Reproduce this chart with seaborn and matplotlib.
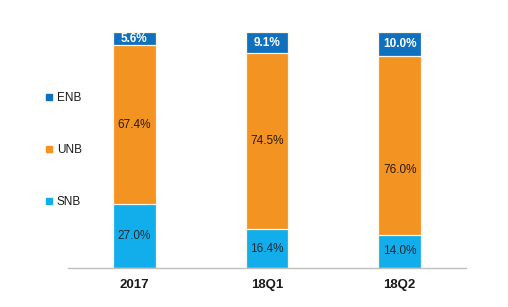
import matplotlib
matplotlib.use("Agg")
import matplotlib.pyplot as plt
import seaborn as sns
import pandas as pd
import numpy as np
from matplotlib.lines import Line2D

categories = ["2017", "18Q1", "18Q2"]
snb = [27.0, 16.4, 14.0]
unb = [67.4, 74.5, 76.0]
enb = [5.6, 9.1, 10.0]
series_names = ["ENB", "UNB", "SNB"]
colors = {"ENB": "#0F70BE", "UNB": "#F39322", "SNB": "#12AEEB"}

sns.set_theme(style="white")
plt.rcParams["font.family"] = ["Liberation Sans", "DejaVu Sans"]

df = pd.DataFrame({"cat": categories, "SNB": snb, "UNB": unb, "ENB": enb})
df["top_snb"] = df["SNB"]
df["top_unb"] = df["SNB"] + df["UNB"]
df["top_enb"] = df["SNB"] + df["UNB"] + df["ENB"]

fig = plt.figure(figsize=(5.08, 3.07), dpi=100)
ax = fig.add_axes([68 / 508, 39 / 307, (466 - 68) / 508, (268 - 32) / 307])

for col, name in [("top_enb", "ENB"), ("top_unb", "UNB"), ("top_snb", "SNB")]:
    sns.barplot(data=df, x="cat", y=col, color=colors[name], width=0.32,
                edgecolor="#FBF6EA", linewidth=0.9, saturation=1, ax=ax, zorder=2)

ax.set_ylim(0, 100)
ax.set_xlim(-0.5, 2.5)
ax.set_xlabel("")
ax.set_ylabel("")
ax.set_yticks([])
for s in ["top", "right", "left"]:
    ax.spines[s].set_visible(False)
ax.spines["bottom"].set_color("#BFBFBF")
ax.spines["bottom"].set_linewidth(1.0)
ax.tick_params(axis="x", length=0, pad=8)
for t in ax.get_xticklabels():
    t.set_fontweight("bold")
    t.set_fontsize(9.5)
    t.set_color("#1a1a1a")

# label anchor fraction within the orange segment (from bottom)
unb_frac = [0.5, 0.5, 0.36]
for i in range(len(categories)):
    ax.text(i, snb[i] / 2, f"{snb[i]:.1f}%", ha="center", va="center",
            fontsize=8.5, color="#1f2a36", zorder=3)
    ax.text(i, snb[i] + unb[i] * unb_frac[i], f"{unb[i]:.1f}%", ha="center", va="center",
            fontsize=8.5, color="#2a1a0a", zorder=3)
    ax.text(i, snb[i] + unb[i] + enb[i] / 2, f"{enb[i]:.1f}%", ha="center", va="center",
            fontsize=8.5, color="white", fontweight="bold", zorder=3)

# legend on the left
handles = [Line2D([], [], marker="s", linestyle="", markersize=5,
                  color=colors[n], label=n) for n in series_names]
fig.legend(handles=handles, loc="upper left", bbox_to_anchor=(41 / 508, 1 - 87 / 307),
           frameon=False, fontsize=8.5, labelspacing=3.4, handlelength=0.6,
           handletextpad=0.35, borderaxespad=0, labelcolor="#1a1a1a")

fig.savefig("out.png", dpi=100)
